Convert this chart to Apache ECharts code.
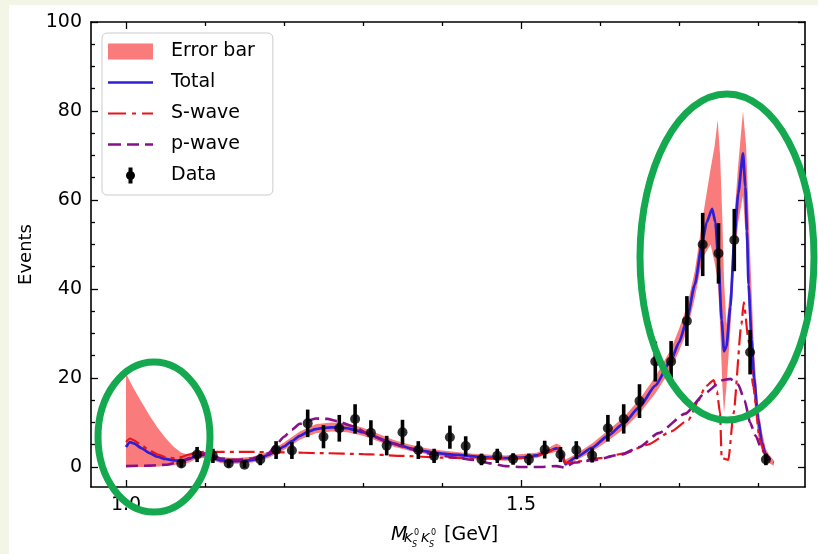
<!DOCTYPE html>
<html lang="en">
<head>
<meta charset="utf-8">
<title>KsKs invariant mass fit</title>
<script src="https://cdn.jsdelivr.net/npm/echarts@6/dist/echarts.min.js"></script>
<style>
  html, body { margin: 0; padding: 0; background: #fff; }
  #main { width: 818px; height: 554px; }
</style>
</head>
<body>
<div id="main"></div>
<script>
// ---- data ----
var dataX = [1.07, 1.09, 1.11, 1.13, 1.15, 1.17, 1.19, 1.21, 1.23, 1.25, 1.27, 1.29, 1.31, 1.33, 1.35, 1.37, 1.39,
             1.41, 1.43, 1.45, 1.47, 1.49, 1.51, 1.53, 1.55, 1.57, 1.59, 1.61, 1.63, 1.65, 1.67, 1.69, 1.71, 1.73,
             1.75, 1.77, 1.79, 1.81];
var dataY = [0.8, 2.8, 2.5, 0.8, 0.5, 1.7, 3.8, 3.7, 9.8, 6.8, 8.7, 10.8, 7.7, 4.8, 7.8, 3.8, 2.5,
             6.7, 4.7, 1.7, 2.5, 1.8, 1.7, 3.9, 2.8, 3.8, 2.6, 8.7, 10.8, 14.8, 23.7, 23.7, 32.8, 50.0,
             48.0, 51.0, 25.8, 1.7];
var dataErr = [0.9, 1.7, 1.6, 0.9, 0.7, 1.3, 2.0, 1.9, 3.1, 2.6, 3.0, 3.3, 2.8, 2.2, 2.8, 2.0, 1.6,
               2.6, 2.2, 1.3, 1.6, 1.3, 1.3, 2.0, 1.7, 2.0, 1.6, 3.0, 3.3, 3.8, 4.5, 4.6, 5.6, 7.1,
               6.8, 7.0, 5.0, 1.3];

var totalX = [1.0, 1.005, 1.01, 1.02, 1.03, 1.04, 1.05, 1.06, 1.07, 1.08, 1.09, 1.10, 1.11, 1.12, 1.13, 1.14,
              1.15, 1.16, 1.17, 1.18, 1.19, 1.20, 1.21, 1.22, 1.23, 1.24, 1.25, 1.26, 1.27, 1.28, 1.29, 1.30,
              1.31, 1.32, 1.33, 1.34, 1.35, 1.36, 1.37, 1.38, 1.39, 1.40, 1.42, 1.44, 1.46, 1.48, 1.50, 1.52,
              1.535, 1.545, 1.55, 1.556, 1.57, 1.59, 1.61, 1.63, 1.65, 1.67, 1.69, 1.70, 1.71, 1.72, 1.73,
              1.735, 1.742, 1.746, 1.75, 1.754, 1.757, 1.76, 1.765, 1.77, 1.775, 1.781, 1.784, 1.786, 1.788,
              1.792, 1.795, 1.80, 1.805, 1.81, 1.815];
var totalY = [4.5, 5.6, 5.3, 4.2, 3.1, 2.3, 1.8, 1.5, 1.4, 1.8, 2.6, 2.7, 2.0, 1.5, 1.3, 1.3,
              1.4, 1.6, 2.0, 2.7, 3.6, 4.6, 5.8, 7.0, 7.9, 8.5, 8.8, 8.9, 8.9, 8.7, 8.3, 7.8,
              7.2, 6.5, 5.8, 5.2, 4.7, 4.2, 3.8, 3.5, 3.2, 3.0, 2.7, 2.4, 2.1, 2.0, 2.1, 2.6,
              3.6, 4.2, 3.8, 0.7, 2.2, 4.3, 7.0, 9.8, 13.5, 18.3, 24.0, 28.0, 33.0, 41.0, 51.0,
              55.0, 58.0, 55.0, 46.0, 33.0, 26.0, 27.0, 36.0, 51.0, 61.5, 70.5, 63.0, 53.0, 41.0,
              28.5, 20.0, 11.0, 5.5, 2.6, 1.6];

var sWaveX = [1.0, 1.005, 1.01, 1.02, 1.03, 1.04, 1.05, 1.06, 1.07, 1.08, 1.09, 1.10, 1.15, 1.20, 1.25, 1.30,
              1.35, 1.40, 1.45, 1.50, 1.52, 1.535, 1.545, 1.551, 1.556, 1.57, 1.60, 1.63, 1.66, 1.69, 1.712,
              1.725, 1.733, 1.744, 1.748, 1.752, 1.754, 1.7625, 1.769, 1.779, 1.782, 1.788, 1.794, 1.8025,
              1.811, 1.82];
var sWaveY = [5.6, 6.4, 6.0, 4.8, 3.7, 2.8, 2.2, 2.0, 2.2, 2.8, 3.3, 3.4, 3.4, 3.3, 3.1, 2.9,
              2.5, 2.1, 1.9, 2.0, 2.5, 3.4, 4.3, 3.5, 0.9, 1.2, 2.0, 3.0, 5.0, 8.0, 10.6,
              15.0, 18.0, 19.5, 17.0, 12.0, 2.0, 1.6, 12.0, 32.0, 37.0, 28.5, 18.0, 6.0,
              1.6, 1.0];

var pWaveX = [1.0, 1.03, 1.05, 1.07, 1.08, 1.09, 1.10, 1.11, 1.12, 1.14, 1.16, 1.18, 1.19, 1.20, 1.21, 1.22,
              1.24, 1.255, 1.267, 1.288, 1.309, 1.33, 1.351, 1.373, 1.394, 1.42, 1.44, 1.462, 1.48, 1.50,
              1.525, 1.545, 1.555, 1.568, 1.59, 1.627, 1.65, 1.674, 1.708, 1.733, 1.755, 1.765, 1.775,
              1.783, 1.79, 1.797, 1.805, 1.815];
var pWaveY = [0.2, 0.3, 0.5, 1.2, 2.0, 2.8, 3.0, 2.5, 1.9, 1.6, 1.9, 3.0, 5.0, 6.8, 8.4, 9.7,
              10.9, 10.8, 10.3, 9.1, 7.2, 5.7, 4.6, 3.4, 2.7, 2.0, 1.6, 0.8, 0.2, 0.0,
              0.0, 0.2, -0.1, 1.0, 1.5, 2.8, 4.5, 7.6, 12.0, 16.6, 19.5, 19.8, 18.5,
              15.0, 10.0, 7.0, 3.8, 1.5];

var bandX = [1.0, 1.01, 1.02, 1.03, 1.04, 1.05, 1.06, 1.07, 1.08, 1.09, 1.10, 1.12, 1.14, 1.16, 1.18, 1.20,
             1.22, 1.24, 1.26, 1.28, 1.30, 1.32, 1.34, 1.36, 1.38, 1.40, 1.44, 1.48, 1.52, 1.535, 1.545,
             1.55, 1.556, 1.57, 1.59, 1.61, 1.63, 1.65, 1.67, 1.69, 1.70, 1.71, 1.72, 1.73, 1.74, 1.745,
             1.749, 1.752, 1.755, 1.757, 1.76, 1.765, 1.77, 1.775, 1.781, 1.785, 1.79, 1.795, 1.80,
             1.805, 1.81, 1.815, 1.82];
var bandHi = [21.0, 17.5, 14.5, 11.5, 8.8, 6.5, 4.6, 3.2, 2.7, 3.3, 3.4, 2.2, 2.0, 2.3, 3.4, 5.5,
              8.0, 9.6, 10.0, 9.8, 8.8, 7.4, 6.0, 5.0, 4.2, 3.7, 3.0, 2.6, 3.2, 4.3, 5.3,
              4.8, 1.6, 3.0, 5.3, 8.2, 11.2, 15.2, 20.3, 26.5, 31.0, 36.0, 44.0, 56.0, 67.0, 72.0,
              78.0, 70.0, 55.0, 42.0, 32.0, 40.0, 56.0, 68.0, 80.0, 72.0, 48.0, 26.0, 14.0,
              8.0, 4.0, 2.5, 1.5];
var bandLo = [0.0, 0.0, 0.0, 0.0, 0.1, 0.2, 0.4, 0.7, 1.0, 1.9, 2.0, 0.9, 0.7, 1.0, 2.0, 3.8,
              6.1, 7.6, 8.0, 7.8, 7.0, 5.7, 4.5, 3.6, 2.9, 2.4, 1.8, 1.4, 2.0, 3.0, 3.4,
              3.0, 0.1, 1.5, 3.4, 5.9, 8.5, 12.0, 16.5, 22.0, 26.0, 30.5, 38.0, 47.0, 50.0, 46.0,
              42.0, 32.0, 18.0, 12.0, 18.0, 31.0, 46.0, 55.0, 61.0, 50.0, 28.0, 15.0, 7.0,
              3.5, 1.5, 0.8, 0.3];

var xMajor = [1.0, 1.5];
var xMinor = [1.1, 1.2, 1.3, 1.4, 1.6, 1.7, 1.8];
var yMajor = [0, 20, 40, 60, 80, 100];
var yMinor = [5, 10, 15, 25, 30, 35, 45, 50, 55, 65, 70, 75, 85, 90, 95];

var X_MIN = 0.9557, X_MAX = 1.8595, Y_MIN = -4.5, Y_MAX = 100;
var FONT = 'DejaVu Sans';
var PINK = '#f97b7b';
var GREEN = '#14a84f';
var BLUE = '#2b1fd8', RED = '#e8141c', PURPLE = '#86108a';

// legend glyphs (45x16 box, corners pinned with bare moves)
var BOX = 'path://M0,0M45,0M45,16M0,16';
var ICON_TOTAL = BOX + 'M0,6.7L45,6.7L45,9.3L0,9.3Z';
var ICON_S = BOX + 'M0,6.9L18,6.9L18,9.1L0,9.1Z M24,6.9L28,6.9L28,9.1L24,9.1Z M34,6.9L45,6.9L45,9.1L34,9.1Z';
var ICON_P = BOX + 'M0,6.7L13,6.7L13,9.3L0,9.3Z M19,6.7L31,6.7L31,9.3L19,9.3Z M37,6.7L45,6.7L45,9.3L37,9.3Z';
var ICON_DATA = BOX + 'M20.5,0L24.5,0L24.5,16L20.5,16Z M18,8A4.5,4.5,0,1,1,27,8A4.5,4.5,0,1,1,18,8Z';

function zip(xs, ys) {
    return xs.map(function (x, i) { return [x, ys[i]]; });
}

// one axis per (side, tick kind) so major/minor ticks can have their own length
function xAxis(pos, ticks, len, labels) {
    return {
        type: 'value', position: pos, min: X_MIN, max: X_MAX,
        axisLine: { show: labels, onZero: false, lineStyle: { color: '#000', width: 1.6 } },
        axisTick: { show: true, inside: true, length: len, customValues: ticks,
                    lineStyle: { color: '#000', width: 1.3 } },
        axisLabel: { show: labels && pos === 'bottom', customValues: ticks, margin: 9,
                     formatter: function (v) { return v.toFixed(1); },
                     color: '#000', fontSize: 19, fontFamily: FONT },
        splitLine: { show: false }
    };
}
function yAxis(pos, ticks, len, labels) {
    return {
        type: 'value', position: pos, min: Y_MIN, max: Y_MAX,
        axisLine: { show: labels, onZero: false, lineStyle: { color: '#000', width: 1.6 } },
        axisTick: { show: true, inside: true, length: len, customValues: ticks,
                    lineStyle: { color: '#000', width: 1.3 } },
        axisLabel: { show: labels && pos === 'left', customValues: ticks, margin: 9,
                     color: '#000', fontSize: 19, fontFamily: FONT },
        splitLine: { show: false }
    };
}

var yAxes = [yAxis('left', yMajor, 7, true), yAxis('left', yMinor, 4, false),
             yAxis('right', yMajor, 7, true), yAxis('right', yMinor, 4, false)];
yAxes[0].name = 'Events';
yAxes[0].nameLocation = 'middle';
yAxes[0].nameGap = 54;
yAxes[0].nameTextStyle = { color: '#000', fontSize: 18, fontFamily: FONT };

function axisTitle(x, y, text, font) {
    return { type: 'text', x: x, y: y, style: { text: text, font: font, fill: '#000', verticalAlign: 'middle' } };
}

var myChart = echarts.init(document.getElementById('main'), null, { renderer: 'canvas' });

myChart.setOption({
    backgroundColor: '#f3f5e7',
    animation: false,
    grid: { left: 91, right: 13, top: 22, bottom: 67, outerBoundsMode: 'none' },
    xAxis: [xAxis('bottom', xMajor, 7, true), xAxis('bottom', xMinor, 4, false),
            xAxis('top', xMajor, 7, true), xAxis('top', xMinor, 4, false)],
    yAxis: yAxes,
    legend: {
        orient: 'vertical', left: 102, top: 33,
        data: [
            { name: 'Error bar', icon: 'rect' },
            { name: 'Total', icon: ICON_TOTAL },
            { name: 'S-wave', icon: ICON_S },
            { name: 'p-wave', icon: ICON_P },
            { name: 'Data', icon: ICON_DATA }
        ],
        itemWidth: 45, itemHeight: 16, itemGap: 12,
        textStyle: { color: '#000', fontSize: 19, fontFamily: FONT, padding: [0, 0, 0, 13] },
        backgroundColor: 'rgba(255,255,255,0.85)', borderColor: '#cccccc', borderWidth: 1, borderRadius: 5,
        padding: [9, 18, 10, 6],
        selectedMode: false
    },
    graphic: [
        { type: 'rect', z: -10, silent: true, shape: { x: 9, y: 5, width: 809, height: 549 }, style: { fill: '#fff' } },
        // axis title M_{K_S^0 K_S^0}[GeV]
        axisTitle(391, 535, 'M', 'italic 19px "DejaVu Sans"'),
        axisTitle(404, 539, 'K', 'italic 13px "DejaVu Sans"'),
        axisTitle(414, 533, '0', '8px "DejaVu Sans"'),
        axisTitle(412, 545, 'S', 'italic 8px "DejaVu Sans"'),
        axisTitle(421, 539, 'K', 'italic 13px "DejaVu Sans"'),
        axisTitle(431, 533, '0', '8px "DejaVu Sans"'),
        axisTitle(429, 545, 'S', 'italic 8px "DejaVu Sans"'),
        axisTitle(444, 535, '[GeV]', '19px "DejaVu Sans"'),
        // green highlight ellipses
        { type: 'ellipse', z: 100, silent: true, shape: { cx: 154, cy: 437, rx: 56, ry: 75 },
          style: { fill: 'none', stroke: GREEN, lineWidth: 7 } },
        { type: 'ellipse', z: 100, silent: true, shape: { cx: 727, cy: 257, rx: 87, ry: 163 },
          style: { fill: 'none', stroke: GREEN, lineWidth: 7 } }
    ],
    series: [
        {
            name: 'Error bar', type: 'custom', xAxisIndex: 0, yAxisIndex: 0, z: 1,
            itemStyle: { color: PINK },
            data: [[bandX[0], bandLo[0]]],
            renderItem: function (params, api) {
                var pts = [];
                for (var i = 0; i < bandX.length; i++) pts.push(api.coord([bandX[i], bandHi[i]]));
                for (var j = bandX.length - 1; j >= 0; j--) pts.push(api.coord([bandX[j], bandLo[j]]));
                return { type: 'polygon', shape: { points: pts }, style: { fill: PINK } };
            }
        },
        {
            name: 'Total', type: 'line', data: zip(totalX, totalY), symbol: 'none', showSymbol: false,
            smooth: 0.2, smoothMonotone: 'x', z: 3,
            itemStyle: { color: BLUE },
            lineStyle: { color: BLUE, width: 2.7 }
        },
        {
            name: 'S-wave', type: 'line', data: zip(sWaveX, sWaveY), symbol: 'none', showSymbol: false,
            smooth: 0.2, smoothMonotone: 'x', z: 4,
            itemStyle: { color: RED },
            lineStyle: { color: RED, width: 2.2, type: [16, 5, 4, 5] }
        },
        {
            name: 'p-wave', type: 'line', data: zip(pWaveX, pWaveY), symbol: 'none', showSymbol: false,
            smooth: 0.2, smoothMonotone: 'x', z: 4,
            itemStyle: { color: PURPLE },
            lineStyle: { color: PURPLE, width: 2.6, type: [12, 6] }
        },
        {
            name: 'Data', type: 'custom', z: 5,
            itemStyle: { color: '#000' },
            data: dataX.map(function (x, i) { return [x, dataY[i], dataErr[i]]; }),
            renderItem: function (params, api) {
                var lo = api.coord([api.value(0), api.value(1) - api.value(2)]);
                var hi = api.coord([api.value(0), api.value(1) + api.value(2)]);
                return { type: 'line', shape: { x1: lo[0], y1: lo[1], x2: hi[0], y2: hi[1] },
                         style: { stroke: '#000', lineWidth: 3.6 } };
            }
        },
        {
            name: 'Data', type: 'scatter', z: 6, symbolSize: 10,
            itemStyle: { color: '#000' },
            data: zip(dataX, dataY)
        }
    ]
});
</script>
</body>
</html>
